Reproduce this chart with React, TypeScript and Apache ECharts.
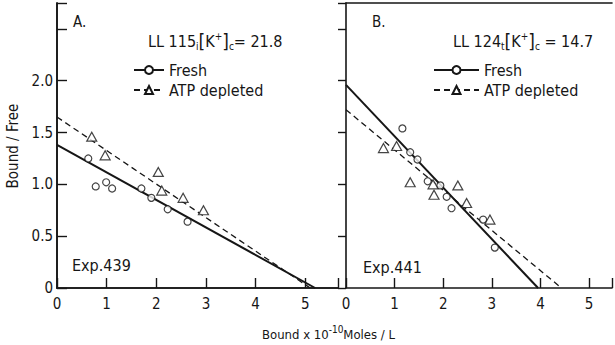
import { useEffect, useRef } from "react";
import * as echarts from "echarts";

// Scatchard plots: bound/free vs bound (x 10^-10 moles/L)
const xTickValues = [0, 1, 2, 3, 4, 5];
const yTickValues = [0, 0.5, 1.0, 1.5, 2.0];

// Panel A — Exp. 439
const freshA = [
  [0.63, 1.25], [0.78, 0.98], [0.99, 1.02], [1.11, 0.96],
  [1.70, 0.96], [1.90, 0.87], [2.23, 0.76], [2.63, 0.64],
];
const atpA = [
  [0.70, 1.46], [0.97, 1.28], [2.04, 1.12], [2.11, 0.94],
  [2.54, 0.87], [2.95, 0.75],
];
const freshFitA = [[0, 1.38], [5.2, 0]];
const atpFitA = [[0, 1.65], [5.1, 0]];

// Panel B — Exp. 441
const freshB = [
  [1.16, 1.54], [1.32, 1.31], [1.47, 1.24], [1.68, 1.03], [1.94, 0.99],
  [2.07, 0.88], [2.17, 0.77], [2.82, 0.66], [3.06, 0.39],
];
const atpB = [
  [0.77, 1.35], [1.04, 1.37], [1.32, 1.02], [1.79, 1.00],
  [1.81, 0.90], [2.30, 0.99], [2.48, 0.82], [2.96, 0.66],
];
const freshFitB = [[0, 1.96], [3.95, 0]];
const atpFitB = [[0, 1.72], [4.43, 0]];

const NARROW = "'Liberation Sans Narrow','DejaVu Sans Condensed','Liberation Sans',sans-serif";
const SANS = "'DejaVu Sans Condensed','Liberation Sans',sans-serif";
const INK = "#161616";

export default function App() {
  const ref = useRef<HTMLDivElement>(null);

  useEffect(() => {
    if (!ref.current) return;
    const chart = echarts.init(ref.current, null, { renderer: "svg" });

    const axisLine = { show: true, lineStyle: { color: INK, width: 1.6 } };
    const frameX = (gridIndex: number) => ({
      type: "value", gridIndex, position: "top", min: 0, max: gridIndex === 0 ? 5.66 : 5.47,
      axisLine, axisTick: { show: false }, axisLabel: { show: false }, splitLine: { show: false },
    });
    const bottomX = (gridIndex: number, max: number) => ({
      type: "value", gridIndex, position: "bottom", min: 0, max, interval: 1,
      axisLine, splitLine: { show: false },
      axisTick: { show: true, inside: true, length: 10, lineStyle: { color: INK, width: 1.4 } },
      axisLabel: {
        show: true, margin: 8, color: INK, fontSize: 15, fontFamily: NARROW,
        formatter: (v: number) => (xTickValues.includes(v) ? String(v) : ""),
      },
    });

    const scatter = (data: number[][], xi: number, yi: number, symbol: string, size: any) => ({
      type: "scatter", xAxisIndex: xi, yAxisIndex: yi, data, symbol, symbolSize: size, z: 5,
      itemStyle: { color: "#fff", borderColor: INK, borderWidth: 1.2 },
    });
    const fit = (name: string, data: number[][], xi: number, yi: number, dashed: boolean) => ({
      type: "line", name, xAxisIndex: xi, yAxisIndex: yi, data,
      symbol: dashed ? "emptyTriangle" : "emptyCircle", symbolSize: dashed ? 9 : 7, showSymbol: false,
      itemStyle: { color: INK, borderColor: INK, borderWidth: 1.2 },
      lineStyle: dashed
        ? { color: INK, width: 1.3, type: [6, 4] }
        : { color: INK, width: 2 },
      z: 3,
    });

    const legendBase = {
      data: ["Fresh", "ATP depleted"], orient: "vertical", itemHeight: 10, itemGap: 4,
      padding: 0, selectedMode: false,
      textStyle: { color: INK, fontSize: 16, fontFamily: SANS },
    };

    const rich = {
      sub: { fontSize: 10, verticalAlign: "bottom", fontFamily: NARROW, color: INK },
      sup: { fontSize: 10, verticalAlign: "top", fontFamily: NARROW, color: INK },
      br: { fontSize: 19, fontFamily: NARROW, color: INK },
    };
    const titleText = (left: number, top: number, text: string, size = 16) => ({
      left, top, text, padding: 0,
      textStyle: { fontSize: size, fontWeight: "normal", color: INK, fontFamily: NARROW, lineHeight: 20, rich },
    });

    chart.setOption({
      animation: false,
      textStyle: { fontFamily: SANS },
      grid: [
        { left: 57, top: 3, width: 281, height: 285 },
        { left: 346, top: 3, width: 269, height: 285 },
      ],
      xAxis: [bottomX(0, 5.66), frameX(0), bottomX(1, 5.47), frameX(1)],
      yAxis: [
        {
          type: "value", gridIndex: 0, position: "left", min: 0, max: 2.75, interval: 0.5,
          axisLine, splitLine: { show: false },
          axisTick: { show: true, inside: true, length: 10, lineStyle: { color: INK, width: 1.4 } },
          axisLabel: {
            show: true, margin: 4, color: INK, fontSize: 15, fontFamily: NARROW,
            formatter: (v: number) => (yTickValues.includes(v) ? (v === 0 ? "0" : v.toFixed(1)) : ""),
          },
        },
        {
          type: "value", gridIndex: 0, position: "right", min: 0, max: 2.75,
          axisLine, axisTick: { show: false }, axisLabel: { show: false }, splitLine: { show: false },
        },
        {
          type: "value", gridIndex: 1, position: "left", min: 0, max: 2.75, interval: 0.5,
          axisLine, splitLine: { show: false },
          axisTick: { show: true, inside: false, length: 8, lineStyle: { color: INK, width: 1.4 } },
          axisLabel: { show: false },
        },
      ],
      legend: [
        { ...legendBase, left: 133, top: 62, itemWidth: 30 },
        { ...legendBase, left: 433, top: 62, itemWidth: 45 },
      ],
      title: [
        titleText(73, 12, "A.", 15),
        titleText(372, 12, "B.", 15),
        titleText(148, 31, "LL 115{sub|i}{br|[}K{sup|+}{br|]}{sub|c}= 21.8"),
        titleText(453, 31, "LL 124{sub|t}{br|[}K{sup|+}{br|]}{sub|c} = 14.7"),
        titleText(72, 255, "Exp.439"),
        titleText(363, 257, "Exp.441"),
        titleText(262, 324, "Bound x 10{sup|-10}Moles / L", 13),
      ],
      graphic: [
        {
          type: "text", x: 13, y: 146, rotation: Math.PI / 2,
          style: {
            text: "Bound / Free", fill: INK, fontSize: 15, fontFamily: NARROW,
            align: "center", verticalAlign: "middle",
          },
        },
      ],
      series: [
        fit("Fresh", freshFitA, 0, 0, false),
        fit("ATP depleted", atpFitA, 0, 0, true),
        scatter(freshA, 0, 0, "circle", 7),
        scatter(atpA, 0, 0, "triangle", [10, 9]),
        fit("Fresh", freshFitB, 2, 2, false),
        fit("ATP depleted", atpFitB, 2, 2, true),
        scatter(freshB, 2, 2, "circle", 7),
        scatter(atpB, 2, 2, "triangle", [10, 9]),
      ],
    });

    return () => chart.dispose();
  }, []);

  return (
    <div
      ref={ref}
      style={{ position: "fixed", left: 0, top: 0, width: 615, height: 345, background: "#fff" }}
    />
  );
}
